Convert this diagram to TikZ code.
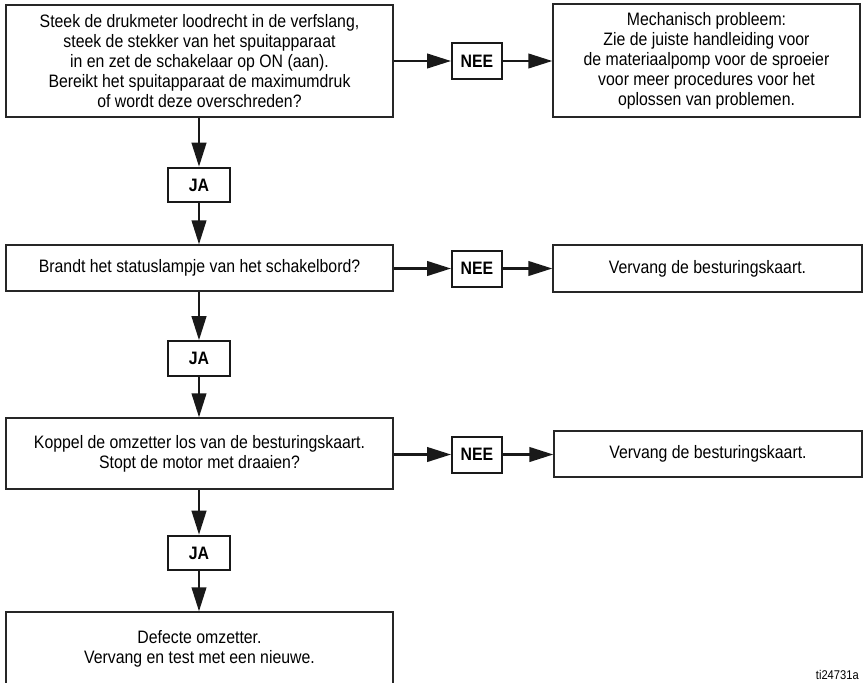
\documentclass[tikz,border=0pt]{standalone}
\usepackage{fontspec}
\setmainfont{Liberation Sans}[FakeStretch=0.88]
\usetikzlibrary{arrows.meta}
\tikzset{
  box/.style={draw=black!85, line width=1.1pt, align=center, inner sep=0pt,
    font=\fontsize{13.5pt}{15pt}\selectfont},
  tag/.style={draw=black!90, line width=1.5pt, inner sep=0pt, minimum width=37.5pt,
    minimum height=27pt, font=\fontsize{13.5pt}{15pt}\selectfont\bfseries},
  tagja/.style={tag, minimum width=46.5pt, minimum height=26pt},
  flow/.style={line width=1.6pt, black!90, -{Triangle[length=18pt,width=11pt]}},
}
\begin{document}
\begin{tikzpicture}[x=0.75pt,y=-0.75pt]
\clip (0,0) rectangle (863,682);
\useasboundingbox (0,0) rectangle (863,682);
% row 1
\node[box, minimum width=290.25pt, minimum height=84pt] (b1) at (199.5,61)
  {Steek de drukmeter loodrecht in de verfslang,\\steek de stekker van het spuitapparaat\\in en zet de schakelaar op ON (aan).\\Bereikt het spuitapparaat de maximumdruk\\of wordt deze overschreden?};
\node[tag] (n1) at (477,61) {NEE};
\node[box, minimum width=230.25pt, minimum height=84.75pt] (b2) at (706.5,60.5)
  {Mechanisch probleem:\\Zie de juiste handleiding voor\\de materiaalpomp voor de sproeier\\voor meer procedures voor het\\oplossen van problemen.};
\node[tagja] (j1) at (199,185) {JA};
% row 2
\node[box, minimum width=290.25pt, minimum height=34.5pt] (b3) at (199.5,268)
  {Brandt het statuslampje van het schakelbord?};
\node[tag] (n2) at (477,268.5) {NEE};
\node[box, minimum width=231.75pt, minimum height=35.25pt] (b4) at (707.5,268.5)
  {Vervang de besturingskaart.};
\node[tagja] (j2) at (199,358.5) {JA};
% row 3
\node[box, minimum width=290.25pt, minimum height=53.25pt] (b5) at (199.5,453.5)
  {Koppel de omzetter los van de besturingskaart.\\Stopt de motor met draaien?};
\node[tag] (n3) at (477,454.5) {NEE};
\node[box, minimum width=231pt, minimum height=34.5pt] (b6) at (708,454)
  {Vervang de besturingskaart.};
\node[tagja] (j3) at (199,553) {JA};
% last box
\node[box, minimum width=290.25pt, minimum height=55.5pt] (b7) at (199.5,649)
  {Defecte omzetter.\\Vervang en test met een nieuwe.};
\node[anchor=south east, inner sep=0pt, font=\fontsize{9.5pt}{10pt}\selectfont] (id) at (859,680) {ti24731a};
% connectors
\draw[flow] (b1.east |- n1.west) -- (n1.west);
\draw[flow] (n1.east) -- (b2.west |- n1.east);
\draw[flow] (b1.south -| j1.north) -- (j1.north);
\draw[flow] (j1.south) -- (b3.north -| j1.south);
\draw[flow] (b3.east |- n2.west) -- (n2.west);
\draw[flow] (n2.east) -- (b4.west |- n2.east);
\draw[flow] (b3.south -| j2.north) -- (j2.north);
\draw[flow] (j2.south) -- (b5.north -| j2.south);
\draw[flow] (b5.east |- n3.west) -- (n3.west);
\draw[flow] (n3.east) -- (b6.west |- n3.east);
\draw[flow] (b5.south -| j3.north) -- (j3.north);
\draw[flow] (j3.south) -- (b7.north -| j3.south);
\end{tikzpicture}
\end{document}
